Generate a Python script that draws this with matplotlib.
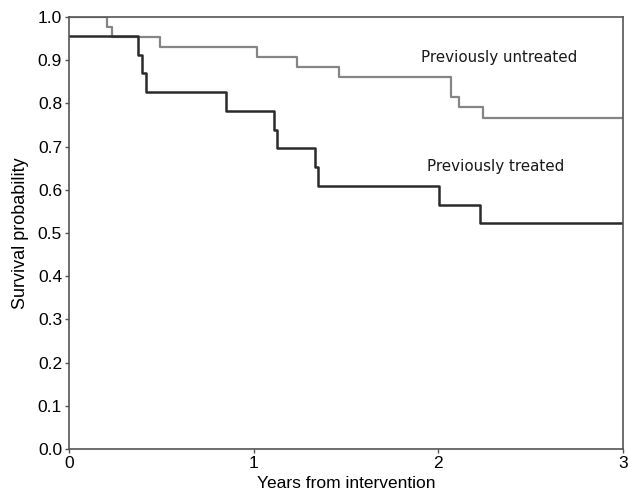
import numpy as np
import matplotlib
matplotlib.use("Agg")
import matplotlib.pyplot as plt

# Kaplan-Meier step data (event times in years, survival after event)
UNTREATED_T = [0.0, 0.204, 0.235, 0.493, 1.02, 1.234, 1.463, 2.066, 2.113, 2.24, 3.0]
UNTREATED_S = [1.0, 0.977, 0.953, 0.930, 0.907, 0.884, 0.860, 0.814, 0.791, 0.767, 0.767]

TREATED_T = [0.0, 0.372, 0.397, 0.415, 0.85, 1.112, 1.128, 1.334, 1.348, 2.003, 2.225, 3.0]
TREATED_S = [0.957, 0.913, 0.870, 0.826, 0.783, 0.739, 0.696, 0.652, 0.609, 0.565, 0.522, 0.522]

XTICKS = [0, 1, 2, 3]
YTICKS = np.round(np.arange(0, 1.01, 0.1), 1)

plt.rcParams["font.family"] = ["Liberation Sans", "DejaVu Sans"]

fig = plt.figure(figsize=(6.28, 4.96), dpi=100)
ax = fig.add_axes([0.1099, 0.0948, 0.8821, 0.8709])

ax.step(UNTREATED_T, UNTREATED_S, where="post", color="#858585", linewidth=1.6)
ax.step(TREATED_T, TREATED_S, where="post", color="#2a2a2a", linewidth=1.8)

ax.set_xlim(0, 3)
ax.set_ylim(0, 1.0)
ax.set_xticks(XTICKS)
ax.set_yticks(YTICKS)
ax.set_yticklabels([f"{v:.1f}" for v in YTICKS])
ax.tick_params(labelsize=12.5, length=3, width=1, color="#555555", pad=2)

for sp in ax.spines.values():
    sp.set_color("#555555")
    sp.set_linewidth(1.2)

ax.set_xlabel("Years from intervention", fontsize=12.5, labelpad=4)
ax.set_ylabel("Survival probability", fontsize=13, labelpad=6)

ax.text(2.33, 0.907, "Previously untreated", ha="center", va="center",
        fontsize=10.9, family=["DejaVu Sans"], color="#1a1a1a")
ax.text(2.31, 0.655, "Previously treated", ha="center", va="center",
        fontsize=10.9, family=["DejaVu Sans"], color="#1a1a1a")

fig.savefig("out.png", dpi=100)
